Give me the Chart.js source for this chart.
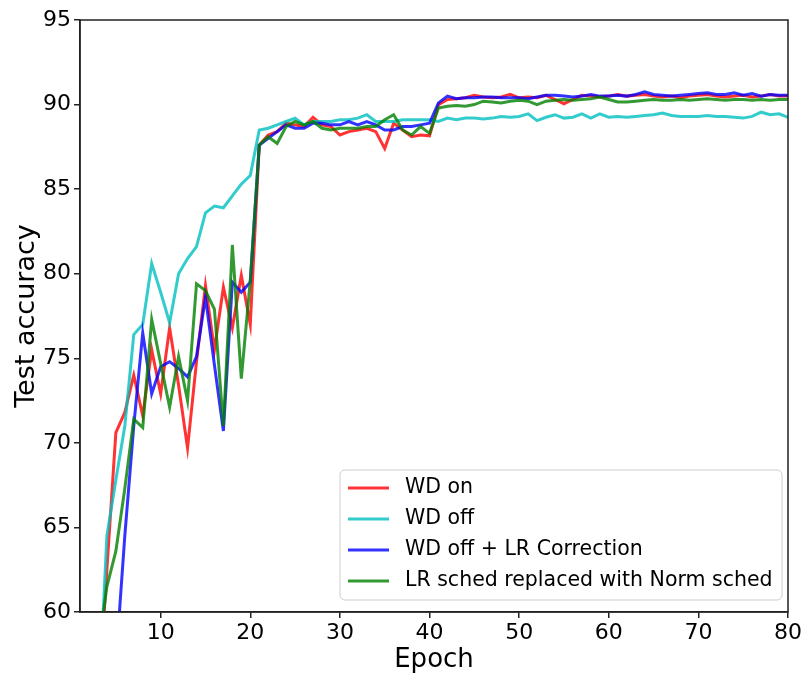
<!DOCTYPE html>
<html>
<head>
<meta charset="utf-8">
<script src="https://cdn.jsdelivr.net/npm/chart.js@4/dist/chart.umd.min.js"></script>
<style>
  html, body { margin: 0; padding: 0; background: #fff; }
  #wrap { width: 804px; height: 676px; position: relative; }
</style>
</head>
<body>
<div id="wrap"><canvas id="c" width="804" height="676"></canvas></div>
<script>
// Test accuracy per training epoch for four weight-decay / schedule settings.
const epochs = [
  1, 2, 3, 4, 5, 6, 7, 8, 9, 10, 11, 12, 13, 14, 15, 16, 17, 18, 19, 20,
  21, 22, 23, 24, 25, 26, 27, 28, 29, 30, 31, 32, 33, 34, 35, 36, 37, 38, 39, 40,
  41, 42, 43, 44, 45, 46, 47, 48, 49, 50, 51, 52, 53, 54, 55, 56, 57, 58, 59, 60,
  61, 62, 63, 64, 65, 66, 67, 68, 69, 70, 71, 72, 73, 74, 75, 76, 77, 78, 79, 80
];

const wdOn = [
  45.0, 50.0, 54.0, 62.5, 70.6, 71.8, 74.0, 71.6, 75.5, 72.9,
  76.8, 73.4, 69.7, 74.8, 79.3, 75.5, 79.2, 76.8, 79.9, 77.0,
  87.6, 88.2, 88.4, 88.9, 88.8, 88.7, 89.25, 88.8, 88.7, 88.2,
  88.4, 88.5, 88.6, 88.4, 87.4, 88.9, 88.5, 88.1, 88.2, 88.15,
  90.0, 90.3, 90.35, 90.4, 90.55, 90.45, 90.4, 90.45, 90.6, 90.4,
  90.45, 90.4, 90.55, 90.3, 90.05, 90.3, 90.55, 90.5, 90.45, 90.5,
  90.6, 90.5, 90.55, 90.6, 90.5, 90.45, 90.5, 90.4, 90.5, 90.55,
  90.6, 90.5, 90.45, 90.5, 90.55, 90.45, 90.5, 90.6, 90.5, 90.5
];

const wdOff = [
  42.0, 48.0, 53.5, 64.5, 67.8, 71.0, 76.4, 77.0, 80.6, 78.9,
  77.1, 80.0, 80.9, 81.6, 83.6, 84.0, 83.9, 84.6, 85.3, 85.8,
  88.5, 88.6, 88.8, 89.0, 89.2, 88.8, 89.0, 89.0, 89.0, 89.1,
  89.1, 89.2, 89.4, 89.0, 89.0, 89.0, 89.1, 89.1, 89.1, 89.1,
  89.0, 89.2, 89.1, 89.2, 89.2, 89.15, 89.2, 89.3, 89.25, 89.3,
  89.45, 89.05, 89.25, 89.4, 89.2, 89.25, 89.45, 89.2, 89.45, 89.25,
  89.3, 89.25, 89.3, 89.35, 89.4, 89.5, 89.35, 89.3, 89.3, 89.3,
  89.35, 89.3, 89.3, 89.25, 89.2, 89.3, 89.55, 89.4, 89.45, 89.25
];

const wdOffLrCorr = [
  40.0, 45.0, 50.0, 54.0, 57.0, 64.5, 71.0, 76.5, 72.9, 74.5,
  74.8, 74.4, 73.9, 75.1, 78.6, 74.6, 70.7, 79.5, 78.9, 79.5,
  87.6, 88.0, 88.4, 88.8, 88.6, 88.6, 88.9, 88.9, 88.8, 88.8,
  89.0, 88.8, 89.0, 88.8, 88.5, 88.5, 88.7, 88.7, 88.8, 88.9,
  90.1, 90.5, 90.35, 90.4, 90.4, 90.45, 90.45, 90.4, 90.4, 90.4,
  90.35, 90.45, 90.55, 90.55, 90.5, 90.45, 90.5, 90.6, 90.5, 90.5,
  90.55, 90.5, 90.6, 90.75, 90.6, 90.55, 90.5, 90.55, 90.6, 90.65,
  90.7, 90.6, 90.6, 90.7, 90.55, 90.65, 90.5, 90.6, 90.55, 90.55
];

const normSched = [
  45.0, 50.0, 57.5, 61.5, 63.6, 67.3, 71.4, 70.9, 77.3, 74.7,
  72.1, 75.1, 72.5, 79.4, 79.0, 77.9, 71.0, 81.7, 73.8, 79.6,
  87.6, 88.1, 87.7, 88.7, 89.0, 88.8, 89.0, 88.6, 88.5, 88.6,
  88.6, 88.6, 88.7, 88.7, 89.1, 89.4, 88.5, 88.2, 88.7, 88.3,
  89.8, 89.9, 89.95, 89.9, 90.0, 90.2, 90.15, 90.1, 90.2, 90.25,
  90.2, 90.0, 90.2, 90.25, 90.3, 90.25, 90.3, 90.35, 90.45, 90.3,
  90.15, 90.15, 90.2, 90.25, 90.3, 90.25, 90.25, 90.3, 90.25, 90.3,
  90.35, 90.3, 90.25, 90.3, 90.3, 90.25, 90.3, 90.25, 90.3, 90.3
];

const xTicks = [10, 20, 30, 40, 50, 60, 70, 80];
const yTicks = [60, 65, 70, 75, 80, 85, 90, 95];

const seriesLabels = [
  'WD on',
  'WD off',
  'WD off + LR Correction',
  'LR sched replaced with Norm sched'
];
const seriesValues = [wdOn, wdOff, wdOffLrCorr, normSched];
const seriesColors = [
  'rgba(255,0,0,0.8)',
  'rgba(0,191,191,0.8)',
  'rgba(0,0,255,0.8)',
  'rgba(0,128,0,0.8)'
];

const FONT = "'DejaVu Sans', 'Liberation Sans', sans-serif";

const datasets = seriesLabels.map((label, i) => ({
  label,
  data: epochs.map((e, k) => ({ x: e, y: seriesValues[i][k] })),
  borderColor: seriesColors[i],
  backgroundColor: seriesColors[i],
  borderWidth: 3,
  pointRadius: 0,
  tension: 0,
  fill: false,
  clip: 0,
  order: seriesLabels.length - i   // later series painted on top
}));

// Box around the plotting area (right and top sides included).
const framePlugin = {
  id: 'frame',
  afterDatasetsDraw(chart) {
    const { ctx, chartArea: a } = chart;
    ctx.save();
    ctx.strokeStyle = '#222';
    ctx.lineWidth = 1.5;
    ctx.strokeRect(a.left, a.top, a.right - a.left, a.bottom - a.top);
    ctx.restore();
  }
};

// Legend drawn inside the plot, lower right.
const insideLegend = {
  id: 'insideLegend',
  afterDraw(chart) {
    const { ctx } = chart;
    const box = { x: 340, y: 470, w: 442, h: 130, r: 5 };
    ctx.save();
    ctx.beginPath();
    ctx.roundRect(box.x, box.y, box.w, box.h, box.r);
    ctx.fillStyle = 'rgba(255,255,255,0.85)';
    ctx.fill();
    ctx.strokeStyle = '#cccccc';
    ctx.lineWidth = 1;
    ctx.stroke();
    ctx.font = '20.5px ' + FONT;
    ctx.textBaseline = 'middle';
    ctx.textAlign = 'left';
    chart.data.datasets.forEach((ds, i) => {
      const yy = box.y + 18 + i * 31;
      ctx.beginPath();
      ctx.moveTo(box.x + 8, yy);
      ctx.lineTo(box.x + 49, yy);
      ctx.strokeStyle = ds.borderColor;
      ctx.lineWidth = 3;
      ctx.stroke();
      ctx.fillStyle = '#000';
      ctx.fillText(ds.label, box.x + 65, yy);
    });
    ctx.restore();
  }
};

new Chart(document.getElementById('c'), {
  type: 'line',
  data: { datasets },
  plugins: [framePlugin, insideLegend],
  options: {
    responsive: false,
    animation: false,
    devicePixelRatio: 1,
    layout: { padding: { left: 0, right: 14, top: 20, bottom: 0 } },
    plugins: {
      legend: { display: false },
      tooltip: { enabled: false }
    },
    scales: {
      x: {
        type: 'linear',
        min: 1,
        max: 80,
        afterBuildTicks: s => { s.ticks = xTicks.map(v => ({ value: v })); },
        afterFit: s => { s.height = 64; },
        grid: { display: true, drawOnChartArea: false, drawTicks: true, tickLength: 6, color: '#222', lineWidth: 1.5 },
        border: { display: true, color: '#222', width: 1.5 },
        ticks: { color: '#000', font: { family: FONT, size: 22 }, padding: 2, maxRotation: 0 },
        title: { display: true, text: 'Epoch', color: '#000', font: { family: FONT, size: 26 }, padding: { top: 0, bottom: 0 } }
      },
      y: {
        type: 'linear',
        min: 60,
        max: 95,
        afterBuildTicks: s => { s.ticks = yTicks.map(v => ({ value: v })); },
        afterFit: s => { s.width = 80; },
        grid: { display: true, drawOnChartArea: false, drawTicks: true, tickLength: 6, color: '#222', lineWidth: 1.5 },
        border: { display: true, color: '#222', width: 1.5 },
        ticks: { color: '#000', font: { family: FONT, size: 22 }, padding: 3 },
        title: { display: true, text: 'Test accuracy', color: '#000', font: { family: FONT, size: 27 }, padding: { top: 11, bottom: 0 } }
      }
    }
  }
});
</script>
</body>
</html>
